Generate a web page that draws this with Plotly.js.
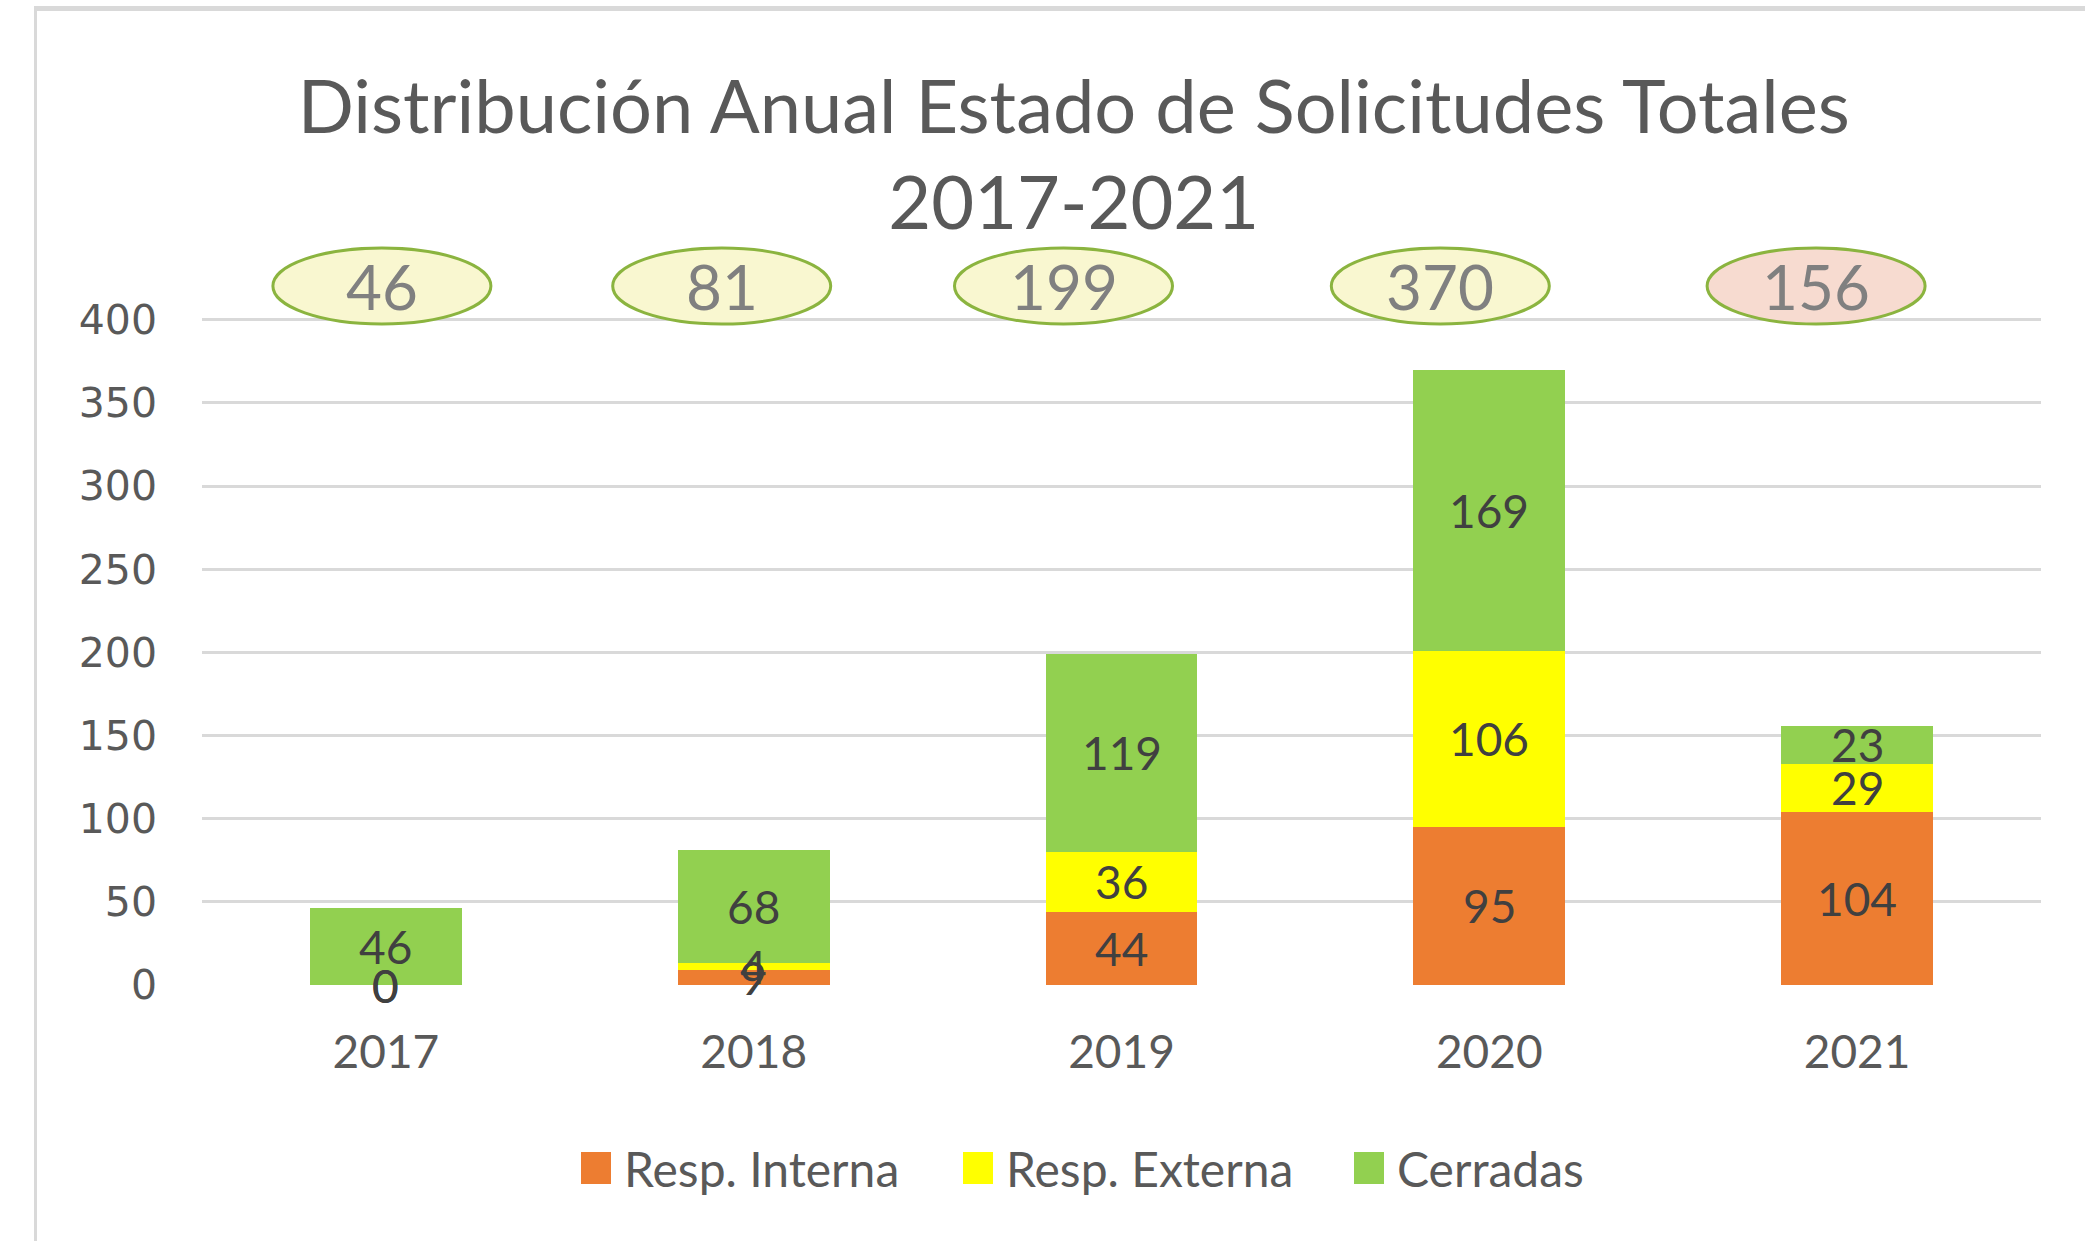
<!DOCTYPE html>
<html>
<head>
<meta charset="utf-8">
<script src="https://cdn.plot.ly/plotly-3.0.1.min.js"></script>
<style>
  html, body { margin: 0; padding: 0; background: #ffffff; }
  #frame { position: absolute; left: 34px; top: 6px; width: 2100px; height: 1300px;
           border-top: 5px solid #d9d9d9; border-left: 3px solid #d9d9d9; }
  #chart { position: absolute; left: 0; top: 0; width: 2085px; height: 1241px; }
</style>
</head>
<body>
<div id="frame"></div>
<div id="chart"></div>
<script>
// ---- data ----
const categories = ['2017', '2018', '2019', '2020', '2021'];
const seriesNames = ['Resp. Interna', 'Resp. Externa', 'Cerradas'];
const respInterna = [0, 9, 44, 95, 104];
const respExterna = [0, 4, 36, 106, 29];
const cerradas = [46, 68, 119, 169, 23];
const totals = [46, 81, 199, 370, 156];
const yTickVals = [0, 50, 100, 150, 200, 250, 300, 350, 400];

// ---- styling ----
const seriesColors = ['#ED7D31', '#FFFF00', '#92D050'];
const totalFill = ['#F9F7D0', '#F9F7D0', '#F9F7D0', '#F9F7D0', '#F7DBD0'];
const totalShiftPx = [-4, -32, -58, -49, -41];   // manual placement of the total bubbles
const W = 2085, H = 1241;
const yMax = 401;
const M = { l: 202, r: 44, t: 318, b: 256 };
const plotW = W - M.l - M.r, plotH = H - M.t - M.b;
const px2paperX = p => (p - M.l) / plotW;
const px2paperY = p => (H - M.b - p) / plotH;

const txtFont = 'Lato, "Open Sans", sans-serif';
const seriesData = [respInterna, respExterna, cerradas];

const traces = seriesData.map((vals, k) => ({
  type: 'bar',
  name: seriesNames[k],
  x: categories,
  y: vals,
  width: 0.413,
  marker: { color: seriesColors[k], line: { width: 0 } },
  hoverinfo: 'x+y+name',
  textposition: 'none',
  showlegend: false
}));

const annotations = [];
const shapes = [];

// segment labels, centred in each stacked segment
categories.forEach((c, i) => {
  let base = 0;
  seriesData.forEach((vals) => {
    const v = vals[i];
    annotations.push({
      x: i, y: base + v / 2, xref: 'x', yref: 'y',
      text: String(v), showarrow: false,
      font: { family: txtFont, size: 46, color: '#404040' },
      xanchor: 'center', yanchor: 'middle'
    });
    base += v;
  });
});

// total bubbles above the plot
const bubbleY = px2paperY(286);
totals.forEach((t, i) => {
  shapes.push({
    type: 'circle', xref: 'x', yref: 'paper',
    xsizemode: 'pixel', xanchor: i, x0: totalShiftPx[i] - 109, x1: totalShiftPx[i] + 109,
    ysizemode: 'pixel', yanchor: bubbleY, y0: -38, y1: 38,
    fillcolor: totalFill[i], line: { color: '#8BB43F', width: 3 }, layer: 'above'
  });
  annotations.push({
    x: i, y: bubbleY, xref: 'x', yref: 'paper', xshift: totalShiftPx[i],
    text: String(t), showarrow: false,
    font: { family: txtFont, size: 62, color: '#808080' },
    xanchor: 'center', yanchor: 'middle'
  });
});

// custom legend (large swatches as in the reference)
const legendSwatchX = [596, 978, 1369];
const legendY = px2paperY(1168);
seriesNames.forEach((n, k) => {
  shapes.push({
    type: 'rect', xref: 'paper', yref: 'paper',
    xsizemode: 'pixel', xanchor: px2paperX(legendSwatchX[k]), x0: -15, x1: 15,
    ysizemode: 'pixel', yanchor: legendY, y0: -16, y1: 16,
    fillcolor: seriesColors[k], line: { width: 0 }
  });
  annotations.push({
    x: px2paperX(legendSwatchX[k] + 26), y: legendY, xref: 'paper', yref: 'paper',
    text: n, showarrow: false,
    font: { family: txtFont, size: 48, color: '#595959' },
    xanchor: 'left', yanchor: 'middle'
  });
});

const layout = {
  width: W, height: H,
  margin: M,
  paper_bgcolor: 'rgba(0,0,0,0)',
  plot_bgcolor: 'rgba(0,0,0,0)',
  barmode: 'stack',
  showlegend: false,
  title: {
    text: 'Distribución Anual Estado de Solicitudes Totales<br>2017-2021',
    font: { family: txtFont, size: 74, color: '#595959' },
    x: 0.515, xanchor: 'center',
    y: 1 - 133 / H, yanchor: 'top'
  },
  xaxis: {
    type: 'category',
    range: [-0.5, 4.5],
    showgrid: false, zeroline: false, showline: false,
    ticks: '',
    tickfont: { family: txtFont, size: 46, color: '#595959' },
    ticklabelstandoff: 36
  },
  yaxis: {
    range: [0, yMax],
    tickvals: yTickVals,
    showgrid: true, gridcolor: '#D9D9D9', gridwidth: 3,
    zeroline: false, showline: false, ticks: '',
    tickfont: { family: '"DejaVu Sans", Verdana, sans-serif', size: 41, color: '#595959' },
    ticklabelstandoff: 44
  },
  annotations: annotations,
  shapes: shapes
};

Plotly.newPlot('chart', traces, layout, { displayModeBar: false, staticPlot: true });
</script>
</body>
</html>
